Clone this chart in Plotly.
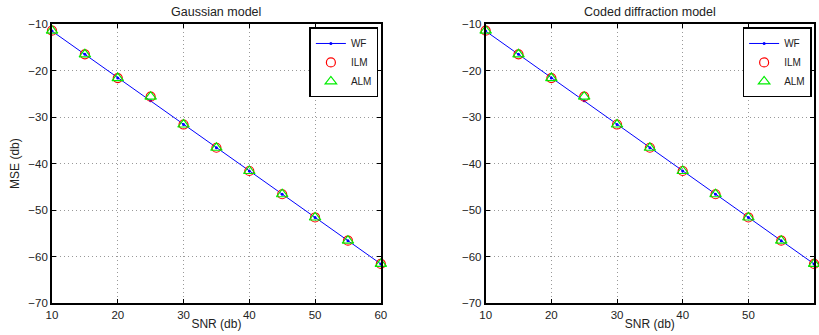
import plotly.graph_objects as go

snr = [10, 15, 20, 25, 30, 35, 40, 45, 50, 55, 60]
wf_gauss = [-11.5, -16.5, -21.6, -26.5, -31.6, -36.6, -41.6, -46.6, -51.6, -56.6, -61.6]
ilm_gauss = [-11.4, -16.5, -21.6, -25.6, -31.6, -36.6, -41.6, -46.6, -51.6, -56.6, -61.6]
alm_gauss = [-11.4, -16.5, -21.6, -25.6, -31.6, -36.6, -41.6, -46.6, -51.6, -56.6, -61.6]
wf_coded = [-11.5, -16.5, -21.6, -26.5, -31.6, -36.6, -41.6, -46.6, -51.6, -56.6, -61.6]
ilm_coded = [-11.4, -16.5, -21.6, -25.6, -31.6, -36.6, -41.6, -46.6, -51.6, -56.6, -61.6]
alm_coded = [-11.4, -16.5, -21.6, -25.6, -31.6, -36.6, -41.6, -46.6, -51.6, -56.6, -61.6]
titles = ["Gaussian model", "Coded diffraction model"]
x_ticks = [10, 20, 30, 40, 50, 60]
y_ticks = [-70, -60, -50, -40, -30, -20, -10]

FONT = "Liberation Sans, Arial, sans-serif"
fig = go.Figure()

panels = [
    (wf_gauss, ilm_gauss, alm_gauss, "x", "y", "legend"),
    (wf_coded, ilm_coded, alm_coded, "x2", "y2", "legend2"),
]
for wf, ilm, alm, xa, ya, lg in panels:
    fig.add_trace(go.Scatter(x=snr, y=wf, mode="lines+markers", name="WF",
                             line=dict(color="#0000ff", width=1),
                             marker=dict(color="#0000ff", size=3),
                             cliponaxis=False,
                             xaxis=xa, yaxis=ya, legend=lg))
    fig.add_trace(go.Scatter(x=snr, y=ilm, mode="markers", name="ILM",
                             marker=dict(symbol="circle-open", color="#ff0000", size=9,
                                         line=dict(width=1.2)),
                             cliponaxis=False,
                             xaxis=xa, yaxis=ya, legend=lg))
    fig.add_trace(go.Scatter(x=snr, y=alm, mode="markers", name="ALM",
                             marker=dict(symbol="triangle-up-open", color="#00ee00", size=10,
                                         line=dict(width=1.2)),
                             cliponaxis=False,
                             xaxis=xa, yaxis=ya, legend=lg))

ydom = [0.0955, 0.928]
axis_common = dict(showline=True, linecolor="black", linewidth=1.8, mirror="ticks",
                   ticks="inside", ticklen=4, tickcolor="black", automargin=False,
                   showgrid=True, gridcolor="#999999", griddash="1px,3px", gridwidth=1,
                   zeroline=False, tickfont=dict(family=FONT, size=11.5, color="#222"))
xt = dict(tickvals=x_ticks, ticktext=[str(v) for v in x_ticks], range=[10, 60])
yt = dict(tickvals=y_ticks, ticktext=["\u2212" + str(-v) for v in y_ticks], range=[-70, -10])

legend_common = dict(yanchor="top", xanchor="right", bgcolor="white",
                     bordercolor="black", borderwidth=1.5,
                     font=dict(family=FONT, size=10, color="#222"),
                     tracegroupgap=0, itemwidth=30)
AX_TITLE_FONT = dict(family=FONT, size=12, color="#222")

fig.update_layout(
    width=819, height=335,
    margin=dict(l=0, r=0, t=0, b=0, autoexpand=False),
    paper_bgcolor="white", plot_bgcolor="white",
    showlegend=True,
    xaxis=dict(domain=[0.0635, 0.465], anchor="y", **xt, **axis_common,
               title=dict(text="SNR (db)", font=AX_TITLE_FONT, standoff=0)),
    yaxis=dict(domain=ydom, anchor="x", **yt, **axis_common,
               title=dict(text="MSE (db)", font=AX_TITLE_FONT, standoff=6)),
    xaxis2=dict(domain=[0.593, 0.994], anchor="y2", **xt, **axis_common,
                title=dict(text="SNR (db)", font=AX_TITLE_FONT, standoff=0)),
    yaxis2=dict(domain=ydom, anchor="x2", **yt, **axis_common),
    legend=dict(x=0.462, y=0.918, **legend_common),
    legend2=dict(x=0.991, y=0.918, **legend_common),
    annotations=[
        dict(text=titles[0], x=(0.0635 + 0.465) / 2, y=0.964, xref="paper", yref="paper",
             xanchor="center", yanchor="middle",
             showarrow=False, font=dict(family=FONT, size=12.5, color="#222")),
        dict(text=titles[1], x=(0.593 + 0.994) / 2, y=0.964, xref="paper", yref="paper",
             xanchor="center", yanchor="middle",
             showarrow=False, font=dict(family=FONT, size=12.5, color="#222")),
    ],
)

fig.write_html("out.html", config={"displayModeBar": False},
               post_script="document.body.style.margin='0';document.body.style.overflow='hidden';")
